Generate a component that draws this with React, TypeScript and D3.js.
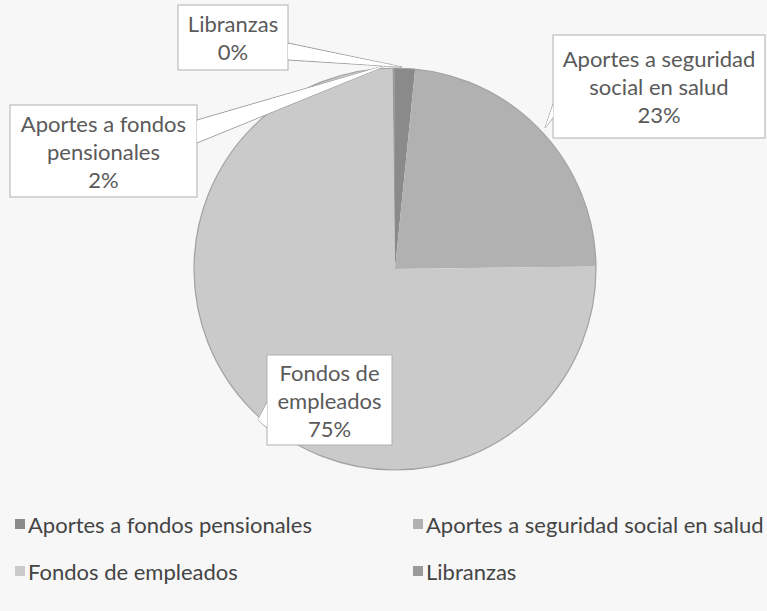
import React from "react";
import * as d3 from "d3";

const categories = [
  "Aportes a fondos pensionales",
  "Aportes a seguridad social en salud",
  "Fondos de empleados",
  "Libranzas",
];
const values = [1.6, 23.2, 75, 0.2];
const labelLines = [
  ["Aportes a fondos", "pensionales", "2%"],
  ["Aportes a seguridad", "social en salud", "23%"],
  ["Fondos de", "empleados", "75%"],
  ["Libranzas", "0%"],
];
const colors = ["#8a8a8a", "#b1b1b1", "#cacaca", "#9a9a9a"];

const W = 767;
const H = 611;
const cx = 395;
const cy = 269;
const R = 201;
const FONT = "Lato, 'Open Sans', sans-serif";

const callouts = [
  { box: [10, 105, 187, 92], base: [[197, 120], [197, 143]], tip: [390, 64] },
  { box: [553, 35, 212, 103], base: [[553, 104], [553, 118]], tip: [545, 128] },
  { box: [267, 355, 125, 90], base: [[267, 402], [267, 428]], tip: [258, 420] },
  { box: [178, 5, 110, 65], base: [[288, 43], [288, 60]], tip: [402, 67] },
];

export default function App() {
  const pie = d3.pie<number>().sort(null).startAngle(0).endAngle(2 * Math.PI);
  const arcs = pie(values);
  const arc = d3.arc<d3.PieArcDatum<number>>().innerRadius(0).outerRadius(R);

  return (
    <div style={{ position: "fixed", left: 0, top: 0, width: W, height: H }}>
      <svg width={W} height={H} style={{ display: "block" }}>
        <rect x={0} y={0} width={W} height={H} fill="#f7f7f7" />
        <g transform={`translate(${cx},${cy})`}>
          {arcs.map((a, i) => (
            <path key={i} d={arc(a) || ""} fill={colors[i]} stroke="none" />
          ))}
          <circle r={R} fill="none" stroke="#a2a2a2" strokeWidth={1.2} />
        </g>
        {callouts.map((c, i) => {
          const [x, y, w, h] = c.box;
          const lines = labelLines[i];
          const lh = 28;
          const startY = y + h / 2 - ((lines.length - 1) * lh) / 2;
          return (
            <g key={i}>
              <polygon
                points={`${c.base[0][0]},${c.base[0][1]} ${c.tip[0]},${c.tip[1]} ${c.base[1][0]},${c.base[1][1]}`}
                fill="#ffffff"
                stroke="#a0a0a0"
                strokeWidth={1}
              />
              <rect x={x} y={y} width={w} height={h} fill="#ffffff" stroke="#b0b0b0" strokeWidth={1} />
              <polygon
                points={`${c.base[0][0]},${c.base[0][1] + 1} ${c.tip[0]},${c.tip[1]} ${c.base[1][0]},${c.base[1][1] - 1}`}
                fill="#ffffff"
                stroke="none"
              />
              {lines.map((t, j) => (
                <text
                  key={j}
                  x={x + w / 2}
                  y={startY + j * lh}
                  textAnchor="middle"
                  dominantBaseline="central"
                  fontFamily={FONT}
                  fontSize={22}
                  fill="#5a5a5a"
                >
                  {t}
                </text>
              ))}
            </g>
          );
        })}
        {categories.map((c, i) => {
          const col = i % 2;
          const row = Math.floor(i / 2);
          const lx = col === 0 ? 15 : 413;
          const ly = row === 0 ? 524 : 571;
          return (
            <g key={c}>
              <rect x={lx} y={ly - 5} width={10} height={10} fill={colors[i]} />
              <text
                x={lx + 13}
                y={ly}
                dominantBaseline="central"
                fontFamily={FONT}
                fontSize={22}
                fill="#444"
              >
                {c}
              </text>
            </g>
          );
        })}
      </svg>
    </div>
  );
}
